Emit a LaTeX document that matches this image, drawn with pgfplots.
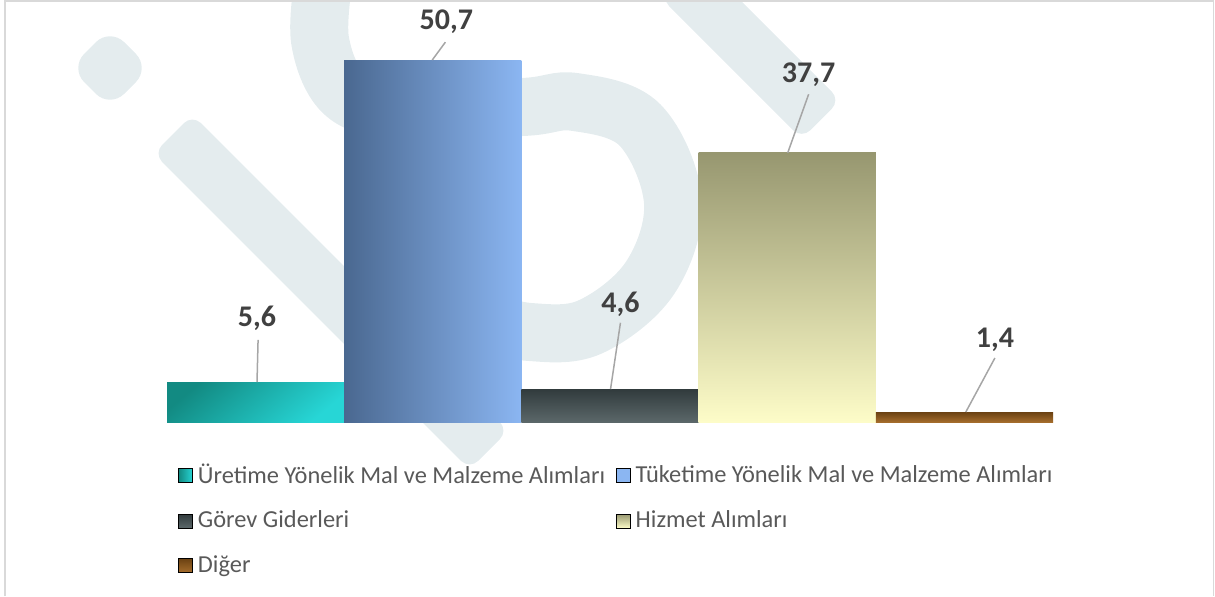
\documentclass[border=0pt]{standalone}
\usepackage{fontspec}
\setmainfont{Carlito}
\usepackage{pgfplots}
\pgfplotsset{compat=1.18}
\definecolor{wm}{HTML}{E4ECEE}
\definecolor{frame}{HTML}{D9D9D9}
\definecolor{tealA}{HTML}{128A82}
\definecolor{tealB}{HTML}{27D6D6}
\definecolor{blueA}{HTML}{4A6890}
\definecolor{blueB}{HTML}{8BB6F2}
\definecolor{grayA}{HTML}{313B3D}
\definecolor{grayB}{HTML}{5B6769}
\definecolor{oliveA}{HTML}{979770}
\definecolor{oliveB}{HTML}{FDFCC8}
\definecolor{brownA}{HTML}{6A4112}
\definecolor{brownB}{HTML}{A46C2C}
\definecolor{lbl}{HTML}{404040}
\definecolor{legtxt}{HTML}{595959}
\definecolor{leader}{HTML}{A6A6A6}
\begin{document}
\begin{tikzpicture}
\useasboundingbox (0pt,0pt) rectangle (607.5pt,298pt);
\begin{scope}[shift={(0pt,298pt)}, x=0.5pt, y=-0.5pt]
% watermark (background decoration)
\fill[wm, rounded corners=10pt] (110,28) -- (150,68) -- (110,108) -- (70,68) -- cycle;
\fill[wm, rounded corners=6pt] (192.4,114.6) -- (508.4,430.6) -- (469.6,469.4) -- (153.6,153.4) -- cycle;
\fill[wm, rounded corners=6pt] (699.3,-40.8) -- (840.3,100.2) -- (801.7,138.8) -- (660.7,-2.2) -- cycle;
\draw[wm, line width=29pt] plot[smooth, tension=0.6] coordinates {(325,-30) (320,40) (345,94) (400,108) (522,107) (575,102) (640,125) (673,202) (650,278) (590,327) (530,332) (480,320)};
% frame
\draw[frame, line width=0.8pt] (5,596) -- (5,1) -- (1213.5,1) -- (1213.5,596);
\end{scope}
\begin{axis}[
  at={(83.5pt,87pt)}, anchor=south west,
  scale only axis, width=443pt, height=196.35pt,
  xmin=-0.5, xmax=4.5, ymin=0, ymax=55,
  axis line style={draw=none}, xtick=\empty, ytick=\empty,
  clip=false,
  legend columns=2,
  legend cell align=left,
  legend image code/.code={\fill[#1] (0pt,-3.5pt) rectangle (7pt,3.5pt);},
  legend style={at={(0.0124,-0.100)}, anchor=north west, draw=none, fill=none,
    font=\fontsize{12.2}{14}\selectfont, text=legtxt, row sep=9.8pt,
    inner sep=0pt,
    nodes={inner sep=1.2pt},
    /tikz/every odd column/.append style={column sep=1.2pt},
    /tikz/every even column/.append style={column sep=4.3pt}},
]
\addplot[ybar, bar width=1, bar shift=0pt, draw=none, top color=tealA, bottom color=tealB, shading angle=40, forget plot] coordinates {(0,5.6)};
\addplot[ybar, bar width=1, bar shift=0pt, draw=none, left color=blueA, right color=blueB, forget plot] coordinates {(1,50.7)};
\addplot[ybar, bar width=1, bar shift=0pt, draw=none, top color=grayA, bottom color=grayB, forget plot] coordinates {(2,4.6)};
\addplot[ybar, bar width=1, bar shift=0pt, draw=none, top color=oliveA, bottom color=oliveB, forget plot] coordinates {(3,37.7)};
\addplot[ybar, bar width=1, bar shift=0pt, draw=none, top color=brownA, bottom color=brownB, forget plot] coordinates {(4,1.4)};
\addlegendimage{left color=tealA, right color=tealB}
\addlegendentry{Üretime Yönelik Mal ve Malzeme Alımları}
\addlegendimage{fill=blueB}
\addlegendentry{Tüketime Yönelik Mal ve Malzeme Alımları}
\addlegendimage{top color=grayA, bottom color=grayB}
\addlegendentry{Görev Giderleri}
\addlegendimage{top color=oliveA, bottom color=oliveB}
\addlegendentry{Hizmet Alımları}
\addlegendimage{top color=brownA, bottom color=brownB}
\addlegendentry{Diğer}
% leader lines
\draw[leader, line width=0.75pt] (axis cs:0.014,11.5) -- (axis cs:0.008,5.6);
\draw[leader, line width=0.75pt] (axis cs:1.071,53.2) -- (axis cs:0.997,50.7);
\draw[leader, line width=0.75pt] (axis cs:2.059,13.9) -- (axis cs:2.003,4.6);
\draw[leader, line width=0.75pt] (axis cs:3.121,45.9) -- (axis cs:3.003,37.7);
\draw[leader, line width=0.75pt] (axis cs:4.172,8.96) -- (axis cs:4.008,1.4);
% value labels
\begin{scope}[every node/.style={font=\bfseries\fontsize{15}{17}\selectfont, text=lbl}]
\node at (axis cs:0.008,14.57) {5,6};
\node at (axis cs:1.076,56.0) {50,7};
\node at (axis cs:2.059,16.5) {4,6};
\node at (axis cs:3.121,48.7) {37,7};
\node at (axis cs:4.172,11.5) {1,4};
\end{scope}
\end{axis}
\end{tikzpicture}
\end{document}
